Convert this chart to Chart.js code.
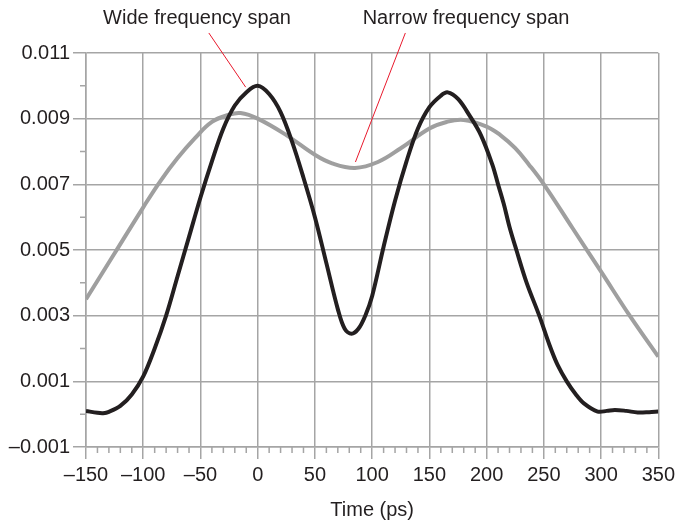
<!DOCTYPE html>
<html lang="en">
<head>
    <meta charset="UTF-8">
    <title>Time (ps)</title>
    <style>
        body {
            margin: 0;
            background-color: #ffffff;
        }
        #chart {
            display: block;
        }
    </style>
</head>
<body>
    <canvas id="chart" width="679" height="523"></canvas>

    <script src="https://cdn.jsdelivr.net/npm/chart.js"></script>
    <script>
        // wide frequency span (black curve)
        const wideTime = [-150, -140, -135, -130, -120, -110, -100, -90, -80, -70,
            -60, -50, -40, -30, -20, -10, 0, 10, 20, 30,
            40, 50, 60, 70, 76, 82, 88, 94, 100, 110,
            120, 130, 140, 150, 160, 166, 175, 185, 195, 205,
            210, 215, 220, 226, 235, 246, 255, 262, 270, 278,
            285, 297, 305, 312, 322, 332, 342, 350];
        const wideValue = [0.00010, 0.00004, 0.00003, 0.00007, 0.00025, 0.00060, 0.00115, 0.0020, 0.0030, 0.0042,
            0.0054, 0.0066, 0.0077, 0.0087, 0.0094, 0.0098, 0.0100, 0.00975, 0.0092, 0.0083,
            0.0072, 0.0060, 0.0046, 0.0032, 0.0026, 0.00245, 0.0026, 0.0030, 0.0036, 0.0051,
            0.0065, 0.0077, 0.0087, 0.00935, 0.0097, 0.0098, 0.0096, 0.0091, 0.0085, 0.0076,
            0.0070, 0.0064, 0.0057, 0.0050, 0.0040, 0.0030, 0.0021, 0.0015, 0.0010, 0.0006,
            0.00033, 0.00008, 0.00010, 0.00013, 0.00010, 0.00005, 0.00006, 0.00008];

        // narrow frequency span (grey curve)
        const narrowTime = [-150, -125, -100, -85, -70, -55, -40, -25, -15, 0, 25, 50, 65, 85,
            105, 125, 150, 165, 180, 200, 212, 225, 237, 250, 275, 300, 325, 350];
        const narrowValue = [0.0035, 0.0049, 0.0063, 0.0071, 0.0078, 0.0084, 0.0089, 0.00912, 0.00917, 0.0090, 0.0085, 0.0079, 0.00764, 0.0075,
            0.00768, 0.0081, 0.0087, 0.0089, 0.00896, 0.00876, 0.0085, 0.0081, 0.0076, 0.0070, 0.00567, 0.00434, 0.0030, 0.00175];

        // callout labels, in axis units (time, value)
        const calloutText = ['Wide frequency span', 'Narrow frequency span'];
        const calloutAt = [[-53, 0.01204], [182, 0.01204]];
        const calloutFrom = [[-42.7, 0.01161], [129, 0.01161]];
        const calloutTo = [[-10.5, 0.00996], [85.4, 0.00768]];

        const gridGrey = '#a5a5a5';
        const textColor = '#231f20';
        const fontFamily = '"Liberation Sans", Arial, sans-serif';

        const dash = n => (n < 0 ? '\u2013' : '') + Math.abs(n);

        // short minor ticks + callouts
        const extras = {
            id: 'extras',
            afterDraw(chart) {
                const ctx = chart.ctx;
                const xs = chart.scales.x, ys = chart.scales.y;
                ctx.save();
                ctx.strokeStyle = gridGrey;
                ctx.lineWidth = 1.5;
                ctx.beginPath();
                xs.ticks.forEach(t => {
                    if (Math.round(t.value) % 50 !== 0) {
                        const px = xs.getPixelForValue(t.value);
                        ctx.moveTo(px, ys.bottom);
                        ctx.lineTo(px, ys.bottom + 6);
                    }
                });
                ys.ticks.forEach(t => {
                    const n = Math.round(t.value * 1000);
                    if (n % 2 === 0) {
                        const py = ys.getPixelForValue(t.value);
                        ctx.moveTo(xs.left, py);
                        ctx.lineTo(xs.left - 6, py);
                    }
                });
                ctx.stroke();

                ctx.strokeStyle = '#e8192c';
                ctx.lineWidth = 1;
                ctx.fillStyle = textColor;
                ctx.font = '20px ' + fontFamily;
                ctx.textAlign = 'center';
                ctx.textBaseline = 'middle';
                calloutText.forEach((txt, i) => {
                    ctx.fillText(txt, xs.getPixelForValue(calloutAt[i][0]), ys.getPixelForValue(calloutAt[i][1]));
                    ctx.beginPath();
                    ctx.moveTo(xs.getPixelForValue(calloutFrom[i][0]), ys.getPixelForValue(calloutFrom[i][1]));
                    ctx.lineTo(xs.getPixelForValue(calloutTo[i][0]), ys.getPixelForValue(calloutTo[i][1]));
                    ctx.stroke();
                });
                ctx.restore();
            }
        };

        const chart = new Chart(document.getElementById('chart'), {
            type: 'line',
            data: {
                datasets: [{
                    label: 'Wide frequency span',
                    data: wideTime.map((t, i) => ({ x: t, y: wideValue[i] })),
                    borderColor: '#231f20',
                    borderWidth: 4,
                    pointRadius: 0,
                    tension: 0.35
                }, {
                    label: 'Narrow frequency span',
                    data: narrowTime.map((t, i) => ({ x: t, y: narrowValue[i] })),
                    borderColor: '#9f9f9f',
                    borderWidth: 4,
                    pointRadius: 0,
                    tension: 0.4
                }]
            },
            options: {
                responsive: false,
                animation: false,
                devicePixelRatio: 1,
                layout: { padding: { top: 53, right: 19, bottom: 0, left: 0 } },
                plugins: {
                    legend: { display: false },
                    tooltip: { enabled: false }
                },
                scales: {
                    x: {
                        type: 'linear',
                        min: -150,
                        max: 350,
                        afterFit: s => { s.height = 76; },
                        ticks: {
                            stepSize: 10,
                            autoSkip: false,
                            maxRotation: 0,
                            padding: 4,
                            color: textColor,
                            font: { family: fontFamily, size: 20 },
                            callback: v => (Math.round(v) % 50 === 0 ? dash(Math.round(v)) : '')
                        },
                        grid: {
                            lineWidth: 1.5,
                            tickLength: 12,
                            color: c => (Math.round(c.tick.value) % 50 === 0 ? gridGrey : 'rgba(0,0,0,0)'),
                            tickColor: c => (Math.round(c.tick.value) % 50 === 0 ? gridGrey : 'rgba(0,0,0,0)')
                        },
                        border: { color: gridGrey, width: 1.5 },
                        title: {
                            display: true,
                            text: 'Time (ps)',
                            color: textColor,
                            font: { family: fontFamily, size: 20 },
                            padding: { top: 0, bottom: 1 }
                        }
                    },
                    y: {
                        min: -0.001,
                        max: 0.011,
                        afterFit: s => { s.width = 86; },
                        ticks: {
                            stepSize: 0.001,
                            autoSkip: false,
                            padding: 3,
                            color: textColor,
                            font: { family: fontFamily, size: 20 },
                            callback: v => {
                                const n = Math.round(v * 1000);
                                if (n % 2 === 0) return '';
                                return (n < 0 ? '\u2013' : '') + (Math.abs(n) / 1000).toFixed(3);
                            }
                        },
                        grid: {
                            lineWidth: 1.5,
                            tickLength: 13,
                            color: c => (Math.round(c.tick.value * 1000) % 2 !== 0 ? gridGrey : 'rgba(0,0,0,0)'),
                            tickColor: c => (Math.round(c.tick.value * 1000) % 2 !== 0 ? gridGrey : 'rgba(0,0,0,0)')
                        },
                        border: { color: gridGrey, width: 1.5 }
                    }
                }
            },
            plugins: [extras]
        });
    </script>
</body>
</html>
